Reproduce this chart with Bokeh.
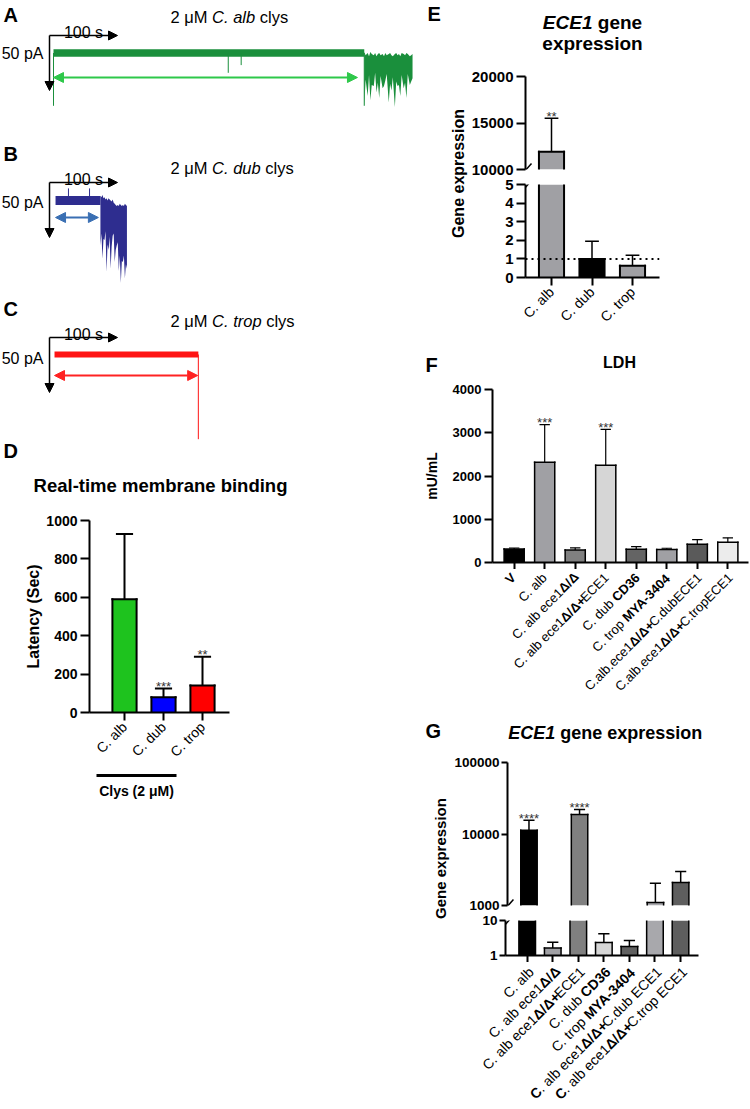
import math
from bokeh.plotting import figure
from bokeh.models import (Range1d, Label, Arrow, NormalHead, Span, FixedTicker,
                          NumeralTickFormatter)
from bokeh.layouts import row, column
from bokeh.embed import file_html
from bokeh.resources import INLINE
from bokeh.core.properties import value

FONT = "Liberation Sans"

# ============================ DATA ============================
# Panels A-C: current traces (time in s, current in pA)
SCALE_T = 100          # s   (scale bar)
SCALE_I = 50           # pA  (scale bar)

a_band_t = [0, 457]
a_band_hi = [3.5, 3.5]
a_band_lo = [-3.5, -3.5]
a_spike_t = [0, 257, 276, 457]
a_spike_lo = [-48, -18, -11, -48]
a_noise_t = [457, 459, 462, 464, 466, 468, 471, 473, 475, 477, 479, 481, 484, 486, 488, 490,
             493, 495, 497, 499, 502, 504, 506, 508, 510, 512, 515, 517, 519, 521, 524, 526, 528]
a_noise_hi = [1, -2, 0, -3, 1, -1, -2, 0, -3, -1, 0, -2, -1, -3, 0, -2, -1, 0, -2, -3, -1, 0,
              -2, -1, -3, 0, -1, -2, 0, -1, -3, -2, -1]
a_noise_lo = [-48, -24, -39, -20, -43, -29, -30, -18, -36, -27, -41, -21, -32, -30, -25, -19,
              -45, -28, -34, -22, -49, -26, -30, -29, -39, -20, -32, -27, -41, -19, -29, -26, -23]
a_latency = [0, 447]

b_band_t = [3, 69]
b_band_hi = [4, 4]
b_band_lo = [-4, -4]
b_spike_t = [22, 53]
b_spike_hi = [11, 11]
b_noise_t = [69, 70.5, 72, 73.5, 75, 76.5, 78, 79.5, 81, 82.5, 84, 85.5, 87, 88.5, 90, 91.5,
             93, 94.5, 96, 97.5, 99, 100.5, 102, 103.5, 105, 106.5, 108]
b_noise_hi = [4, 3, 5, 2, 3, 1, 2, 0, 2, 1, 0, -1, 1, -2, -3, -4, -5, -4, -5, -3, -4, -5, -4,
              -5, -3, -4, -5]
b_noise_lo = [-41, -30, -53, -35, -36, -28, -65, -40, -45, -33, -62, -42, -32, -30, -56, -45,
              -41, -38, -64, -50, -75, -55, -56, -50, -71, -58, -62]
b_latency = [3, 66]

c_band_t = [1.5, 213]
c_band_hi = [2.7, 2.7]
c_band_lo = [-2.7, -2.7]
c_spike_t = [213]
c_spike_lo = [-77]
c_latency = [1.5, 212]

# Panel D: real-time membrane binding latency (s)
d_cats = ["C. alb", "C. dub", "C. trop"]
d_mean = [590, 80, 140]
d_sd = [340, 45, 150]
d_stars = ["", "***", "**"]

# Panel E: ECE1 gene expression
e_cats = ["C. alb", "C. dub", "C. trop"]
e_mean = [11900, 1.0, 0.63]
e_sd = [3600, 0.95, 0.57]
e_stars = ["**", "", ""]
e_ref = 1

# Panel F: LDH (mU/mL)
f_cats = ["V", "C. alb", "C. alb ece1Δ/Δ", "C. alb ece1Δ/Δ+ECE1", "C. dub CD36",
          "C. trop MYA-3404", "C.alb.ece1Δ/Δ+C.dubECE1", "C.alb.ece1Δ/Δ+C.tropECE1"]
f_mean = [310, 2320, 290, 2250, 305, 300, 420, 470]
f_sd = [25, 870, 50, 830, 60, 30, 110, 100]
f_stars = ["", "***", "", "***", "", "", "", ""]

# Panel G: ECE1 gene expression (log)
g_cats = ["C. alb", "C. alb ece1Δ/Δ", "C. alb ece1Δ/Δ+ECE1", "C. dub CD36", "C. trop MYA-3404",
          "C. alb ece1Δ/Δ+C.dub ECE1", "C. alb ece1Δ/Δ+C.trop ECE1"]
g_mean = [11300, 1.65, 18700, 2.35, 1.8, 1100, 2100]
g_sd = [4300, 0.75, 3400, 1.8, 0.9, 950, 900]
g_stars = ["****", "", "****", "", "", "", ""]

# ============================ STYLE ============================
d_colors = ["#1ec31e", "#0000ff", "#ff0000"]
e_colors = ["#a0a0a4", "#000000", "#a0a0a4"]
f_colors = ["#000000", "#a0a0a4", "#808080", "#d6d6d6", "#646464", "#a0a0a4", "#5a5a5a", "#ececec"]
g_colors = ["#000000", "#a0a0a4", "#808080", "#d6d6d6", "#606060", "#a8a8ac", "#5e5e5e"]
f_bold = [["V"], [], ["Δ/Δ"], ["Δ/Δ+"], ["CD36"], ["MYA-3404"], ["Δ/Δ+"], ["Δ/Δ+"]]
g_bold = [[], ["Δ/Δ"], ["Δ/Δ+"], ["CD36"], ["MYA-3404"], ["C", "Δ/Δ+"], ["C", "Δ/Δ+"]]

W_REG = {' ': 278, '.': 278, '+': 584, '-': 333, '/': 278, '(': 333, ')': 333,
         'A': 667, 'C': 722, 'D': 722, 'E': 667, 'M': 833, 'V': 667, 'Y': 667,
         'a': 556, 'b': 556, 'c': 500, 'd': 556, 'e': 556, 'g': 556, 'i': 222, 'l': 222,
         'm': 833, 'n': 556, 'o': 556, 'p': 556, 'r': 333, 's': 500, 't': 278, 'u': 556,
         'x': 500, 'y': 500, 'μ': 576, 'Δ': 668}
W_BOLD = {' ': 278, '.': 278, '+': 584, '-': 333, '/': 278, '(': 333, ')': 333,
          'A': 722, 'C': 722, 'D': 722, 'E': 667, 'G': 778, 'M': 833, 'V': 667, 'Y': 667,
          'a': 556, 'b': 611, 'c': 556, 'd': 611, 'e': 556, 'g': 611, 'i': 278, 'l': 278,
          'm': 889, 'n': 611, 'o': 611, 'p': 611, 'r': 389, 's': 556, 't': 333, 'u': 611,
          'x': 556, 'y': 556, 'μ': 611, 'Δ': 668}

PAGE_W, PAGE_H = 749, 1108   # usable page area (px)
SPLIT_X = 420                # left/right column boundary (px)


def text_w(s, bold, size):
    tbl = W_BOLD if bold else W_REG
    return sum(tbl.get(c, 556) for c in s) * size / 1000.0


def lab(p, x, y, text, size, style="normal", align="left", baseline="middle",
        angle=0.0, x_off=0.0, y_off=0.0, color="black"):
    p.add_layout(Label(x=x, y=y, text=text, x_offset=x_off, y_offset=y_off, angle=angle,
                       text_font=FONT, text_font_size=f"{size}px", text_font_style=style,
                       text_align=align, text_baseline=baseline, text_color=color))


def seg_label(p, x, y, parts, size, align="left", angle=0.0, x_off=0.0, y_off=0.0,
              baseline="middle"):
    widths = [text_w(t, "bold" in st, size) for t, st in parts]
    total = sum(widths)
    start = {"left": 0.0, "center": -total / 2.0, "right": -total}[align]
    ca, sa = math.cos(angle), math.sin(angle)
    d = start
    for (t, st), w in zip(parts, widths):
        lead = len(t) - len(t.lstrip())
        dd = d + text_w(t[:lead], "bold" in st, size)
        if t.strip():
            lab(p, x, y, t.strip(), size, style=st, align="left", baseline=baseline,
                angle=angle, x_off=x_off + dd * ca, y_off=y_off + dd * sa)
        d += w


def split_bold(label, tokens):
    parts, pos = [], 0
    for tok in tokens:
        i = label.index(tok, pos)
        if i > pos:
            parts.append((label[pos:i], "normal"))
        parts.append((tok, "bold"))
        pos = i + len(tok)
    if pos < len(label):
        parts.append((label[pos:], "normal"))
    return parts


def base_fig(**kw):
    p = figure(toolbar_location=None, output_backend="svg", outline_line_color=None,
               background_fill_color="white", border_fill_color="white",
               frame_align=False, **kw)
    p.grid.visible = False
    return p


def strip_fig(box, xr=None):
    """Full-frame helper figure; x in page px (or given range), y = -page_y."""
    x0, y0, x1, y1 = box
    xr = xr if xr is not None else (x0, x1)
    return base_fig(width=x1 - x0, height=y1 - y0, x_range=Range1d(*xr),
                    y_range=Range1d(-y1, -y0), x_axis_type=None, y_axis_type=None,
                    min_border=0)


# ============================ TRACES (A-C) ============================
S = 100 / 68.0     # s per px
K = 50 / 55.0      # pA per px


def tx(px):
    return (px - 53) * S


def trace_fig(box, base):
    x0, y0, x1, y1 = box

    def iy(py):
        return (base - py) * K
    p = base_fig(width=x1 - x0, height=y1 - y0, x_range=Range1d(tx(x0), tx(x1)),
                 y_range=Range1d(iy(y1), iy(y0)), x_axis_type=None, y_axis_type=None,
                 min_border=0)
    return p, iy


def head(c, size=9):
    return NormalHead(size=size, fill_color=c, line_color=c, line_width=1)


def trace_decor(p, iy, letter, letter_py, species, title_py, bar_py, pa_py, arrow_py,
                latency, arrow_color):
    lab(p, tx(3), iy(letter_py), letter, 20, "bold")
    seg_label(p, tx(170), iy(title_py), [("2 μM ", "normal"), (species, "italic"),
                                          (" clys", "normal")], 16.5)
    t0, i0 = tx(49), iy(bar_py)
    p.add_layout(Arrow(end=head("black"), x_start=t0, y_start=i0, x_end=t0 + SCALE_T,
                       y_end=i0, line_width=1.5, line_color="black"))
    p.add_layout(Arrow(end=head("black"), x_start=t0, y_start=i0, x_end=t0,
                       y_end=i0 - SCALE_I, line_width=1.5, line_color="black"))
    lab(p, t0 + SCALE_T / 2, i0, "100 s", 16, align="center", baseline="alphabetic", y_off=3)
    lab(p, t0, iy(pa_py), "50 pA", 16, align="right", x_off=-6)
    ya = iy(arrow_py)
    p.add_layout(Arrow(start=head(arrow_color, 10), end=head(arrow_color, 10),
                       x_start=latency[0], x_end=latency[1], y_start=ya, y_end=ya,
                       line_color=arrow_color, line_width=2))


A_COL, B_COL, C_COL = "#1a8f3c", "#2e2d8f", "#ff1414"

pA, iyA = trace_fig((0, 0, SPLIT_X, 120), 52.5)
pA.varea(x=a_band_t, y1=a_band_lo, y2=a_band_hi, fill_color=A_COL)
pA.segment(x0=a_spike_t, y0=[0] * len(a_spike_t), x1=a_spike_t, y1=a_spike_lo,
           line_color=A_COL, line_width=1)
pA.varea(x=a_noise_t, y1=a_noise_lo, y2=a_noise_hi, fill_color=A_COL)
trace_decor(pA, iyA, "A", 14, "C. alb", 16, 35, 53, 77, a_latency, "#2ec84a")

pB, iyB = trace_fig((0, 120, SPLIT_X, 285), 200)
pB.varea(x=b_band_t, y1=b_band_lo, y2=b_band_hi, fill_color=B_COL)
pB.segment(x0=b_spike_t, y0=[0] * len(b_spike_t), x1=b_spike_t, y1=b_spike_hi,
           line_color=B_COL, line_width=1)
pB.varea(x=b_noise_t, y1=b_noise_lo, y2=b_noise_hi, fill_color=B_COL)
trace_decor(pB, iyB, "B", 153, "C. dub", 167, 182, 202, 217, b_latency, "#3a6fb3")

pC, iyC = trace_fig((0, 285, SPLIT_X, 440), 354)
pC.varea(x=c_band_t, y1=c_band_lo, y2=c_band_hi, fill_color=C_COL)
pC.segment(x0=c_spike_t, y0=[0] * len(c_spike_t), x1=c_spike_t, y1=c_spike_lo,
           line_color=C_COL, line_width=1)
trace_decor(pC, iyC, "C", 308, "C. trop", 320, 337, 358, 375, c_latency, "#ff2222")


# ============================ BAR CHART HELPERS ============================
def cat_range(L, R, c0, sp):
    return ((L - c0) / sp, (R - c0) / sp)


def bar_fig(box, frame, xr, yr, ylog=False, xaxis=True):
    x0, y0, x1, y1 = box
    L, T, R, B = frame
    p = base_fig(width=x1 - x0, height=y1 - y0, x_range=Range1d(*xr), y_range=Range1d(*yr),
                 x_axis_type="linear" if xaxis else None,
                 y_axis_type="log" if ylog else "linear",
                 min_border_left=L - x0, min_border_right=x1 - R,
                 min_border_top=T - y0, min_border_bottom=y1 - B)

    def dx(px):
        return xr[0] + (px - L) / (R - L) * (xr[1] - xr[0])

    def dy(py):
        f = (B - py) / (B - T)
        if ylog:
            return 10 ** (math.log10(yr[0]) + f * (math.log10(yr[1]) - math.log10(yr[0])))
        return yr[0] + f * (yr[1] - yr[0])
    return p, dx, dy


def style_y(p, ticks, size, tick_len=8, standoff=3, label=None, label_size=16,
            label_standoff=6):
    ax = p.yaxis[0]
    ax.ticker = FixedTicker(ticks=ticks)
    ax.axis_line_width = 2
    ax.major_tick_line_width = 2
    ax.major_tick_out = tick_len
    ax.major_tick_in = 0
    ax.minor_tick_line_color = None
    ax.major_label_text_font = FONT
    ax.major_label_text_font_size = f"{size}px"
    ax.major_label_text_font_style = "bold"
    ax.major_label_text_color = "black"
    ax.major_label_standoff = standoff
    if label:
        ax.axis_label = label
        ax.axis_label_text_font = FONT
        ax.axis_label_text_font_size = f"{label_size}px"
        ax.axis_label_text_font_style = "bold"
        ax.axis_label_text_color = "black"
        ax.axis_label_standoff = label_standoff


def style_x(p, n, tick_len=8, labels=None, size=14):
    ax = p.xaxis[0]
    ax.ticker = FixedTicker(ticks=list(range(n)))
    ax.axis_line_width = 2
    ax.major_tick_line_width = 2
    ax.major_tick_out = tick_len
    ax.major_tick_in = 0
    ax.minor_tick_line_color = None
    if labels is None:
        ax.major_label_overrides = {i: "" for i in range(n)}
        ax.major_label_text_font_size = "1px"
        ax.major_label_standoff = 0
    else:
        ax.major_label_overrides = {i: t for i, t in enumerate(labels)}
        ax.major_label_orientation = math.pi / 4
        ax.major_label_text_font = FONT
        ax.major_label_text_font_size = f"{size}px"
        ax.major_label_text_color = "black"
        ax.major_label_standoff = 4


def draw_bars(p, means, sds, colors, width, cap, lw, elw, stars, lo, hi, base=0,
              star_size=13):
    """Bars, SD whiskers and stars, restricted to the visible y-segment [lo, hi]."""
    n = len(means)
    hw = width / 2.0
    y0 = max(base, lo)
    vis = [i for i in range(n) if means[i] > lo]
    tops = [min(means[i], hi) for i in vis]
    p.vbar(x=vis, bottom=y0, top=tops, width=width, fill_color=[colors[i] for i in vis],
           line_color=None)
    xs_side = [i - hw for i in vis] + [i + hw for i in vis]
    p.segment(x0=xs_side, y0=[y0] * len(xs_side), x1=xs_side, y1=tops + tops,
              line_color="black", line_width=lw, line_cap="square")
    ti = [i for i in vis if means[i] <= hi]
    p.segment(x0=[i - hw for i in ti], y0=[means[i] for i in ti], x1=[i + hw for i in ti],
              y1=[means[i] for i in ti], line_color="black", line_width=lw,
              line_cap="square")
    ei = [i for i in range(n) if means[i] < hi and means[i] + sds[i] > lo]
    p.segment(x0=ei, y0=[max(means[i], lo) for i in ei], x1=ei,
              y1=[min(means[i] + sds[i], hi) for i in ei], line_color="black",
              line_width=elw)
    ci = [i for i in range(n) if lo <= means[i] + sds[i] <= hi]
    etop = [means[i] + sds[i] for i in ci]
    p.segment(x0=[i - cap for i in ci], y0=etop, x1=[i + cap for i in ci], y1=etop,
              line_color="black", line_width=elw)
    si = [i for i in ci if stars[i]]
    p.text(x=si, y=[means[i] + sds[i] for i in si], text=[stars[i] for i in si],
           text_align="center", text_baseline="alphabetic", y_offset=-2,
           text_font=value(FONT), text_font_size=f"{star_size}px", text_color="#333333")


def brk(p, dx, dy, x0, y0, x1, y1):
    p.segment(x0=[dx(x0)], y0=[dy(y0)], x1=[dx(x1)], y1=[dy(y1)], line_color="black",
              line_width=1.5)


# ============================ D ============================
frD = (89, 520, 229, 718)
xrD = cat_range(89, 229, 124, 39)
pDh = strip_fig((0, 440, SPLIT_X, 510))
lab(pDh, 3, -450, "D", 20, "bold")
lab(pDh, 160, -485, "Real-time membrane binding", 18.5, "bold", align="center")

pD, dxD, dyD = bar_fig((0, 510, SPLIT_X, 768), frD, xrD, (0, 1000))
draw_bars(pD, d_mean, d_sd, d_colors, 0.62, 0.22, 2, 2, d_stars, 0, 1000)
style_y(pD, [0, 200, 400, 600, 800, 1000], 14, tick_len=9, standoff=3,
        label="Latency (Sec)", label_size=16, label_standoff=1)
style_x(pD, len(d_cats), tick_len=8, labels=d_cats, size=14)

pDf = strip_fig((0, 768, SPLIT_X, PAGE_H))
pDf.segment(x0=[96], y0=[-775], x1=[176], y1=[-775], line_color="black", line_width=3)
lab(pDf, 136, -790, "Clys (2 μM)", 14, "bold", align="center")

# ============================ E ============================
xrE = cat_range(525, 659, 551, 40.5)
pEl = strip_fig((SPLIT_X, 0, 468, 335))
lab(pEl, 427, -13, "E", 20, "bold")
lab(pEl, 458, -173, "Gene expression", 16, "bold", align="center", angle=math.pi / 2)

pEh = strip_fig((468, 0, PAGE_W, 66))
seg_label(pEh, 592, -22, [("ECE1", "bold italic"), (" gene", "bold")], 19, align="center")
lab(pEh, 592, -43, "expression", 19, "bold", align="center")

pEt, dxEt, dyEt = bar_fig((468, 66, PAGE_W, 176), (525, 76, 659, 169), xrE, (10000, 20000),
                          xaxis=False)
draw_bars(pEt, e_mean, e_sd, e_colors, 0.62, 0.17, 2, 1.5, e_stars, 10000, 20000)
style_y(pEt, [10000, 15000, 20000], 15, tick_len=9, standoff=3)
brk(pEt, dxEt, dyEt, 523, 172, 531, 163)

pEb, dxEb, dyEb = bar_fig((468, 176, PAGE_W, 335), (525, 184, 659, 277), xrE, (0, 5))
pEb.add_layout(Span(location=e_ref, dimension="width", line_dash="2 4", line_width=2,
                    line_color="black"))
draw_bars(pEb, e_mean, e_sd, e_colors, 0.62, 0.17, 2, 1.5, e_stars, 0, 5)
style_y(pEb, [0, 1, 2, 3, 4, 5], 15, tick_len=9, standoff=3)
style_x(pEb, len(e_cats), tick_len=8, labels=e_cats, size=14)
brk(pEb, dxEb, dyEb, 523, 189, 531, 180)

# ============================ F ============================
frF = (488, 389, 748, 562)
xrF = cat_range(488, 748, 510, 31)
pFh = strip_fig((SPLIT_X, 335, PAGE_W, 380))
lab(pFh, 425, -364, "F", 20, "bold")
lab(pFh, 619, -362, "LDH", 16, "bold", align="center")

pF, dxF, dyF = bar_fig((SPLIT_X, 380, PAGE_W, 569), frF, xrF, (0, 4000))
draw_bars(pF, f_mean, f_sd, f_colors, 0.66, 0.17, 1.5, 1.2, f_stars, 0, 4000)
style_y(pF, [0, 1000, 2000, 3000, 4000], 13, tick_len=8, standoff=3, label="mU/mL",
        label_size=14, label_standoff=10)
style_x(pF, len(f_cats), tick_len=7)

pFf = strip_fig((SPLIT_X, 569, PAGE_W, 695), xr=(dxF(SPLIT_X), dxF(PAGE_W)))
for i, (t, bt) in enumerate(zip(f_cats, f_bold)):
    seg_label(pFf, i, -575, split_bold(t, bt), 13, align="right", angle=math.pi / 4,
              x_off=3)

# ============================ G ============================
xrG = cat_range(505, 698, 526.7, 25.55)
pGl = strip_fig((SPLIT_X, 695, 451, PAGE_H))
lab(pGl, 425, -730, "G", 20, "bold")
lab(pGl, 440, -858, "Gene expression", 15, "bold", align="center", angle=math.pi / 2)

pGh = strip_fig((451, 695, PAGE_W, 752))
seg_label(pGh, 604.7, -732, [("ECE1", "bold italic"), (" gene expression", "bold")], 18,
          align="center")

pGt, dxGt, dyGt = bar_fig((451, 752, PAGE_W, 912), (505, 762, 698, 905), xrG,
                          (1000, 100000), ylog=True, xaxis=False)
draw_bars(pGt, g_mean, g_sd, g_colors, 0.65, 0.22, 1.5, 1.5, g_stars, 1000, 100000, base=1)
style_y(pGt, [1000, 10000, 100000], 13.5, tick_len=6, standoff=2)
pGt.yaxis[0].formatter = NumeralTickFormatter(format="0")
brk(pGt, dxGt, dyGt, 503, 908, 511, 899)

pGb, dxGb, dyGb = bar_fig((451, 912, PAGE_W, 962), (505, 920, 698, 955), xrG, (1, 10),
                          ylog=True)
draw_bars(pGb, g_mean, g_sd, g_colors, 0.65, 0.22, 1.5, 1.5, g_stars, 1, 10, base=1)
style_y(pGb, [1, 10], 13.5, tick_len=6, standoff=2)
pGb.yaxis[0].formatter = NumeralTickFormatter(format="0")
style_x(pGb, len(g_cats), tick_len=7)
brk(pGb, dxGb, dyGb, 503, 926, 511, 917)

pGf = strip_fig((451, 962, PAGE_W, PAGE_H), xr=(dxGb(451), dxGb(PAGE_W)))
for i, (t, bt) in enumerate(zip(g_cats, g_bold)):
    seg_label(pGf, i, -969, split_bold(t, bt), 14, align="right", angle=math.pi / 4,
              x_off=4)

# ============================ LAYOUT ============================
left = column(pA, pB, pC, pDh, pD, pDf)
right = column(row(pEl, column(pEh, pEt, pEb)),
               column(pFh, pF, pFf),
               row(pGl, column(pGh, pGt, pGb, pGf)))
layout = row(left, right)

open("out.html", "w").write(file_html(layout, INLINE))
